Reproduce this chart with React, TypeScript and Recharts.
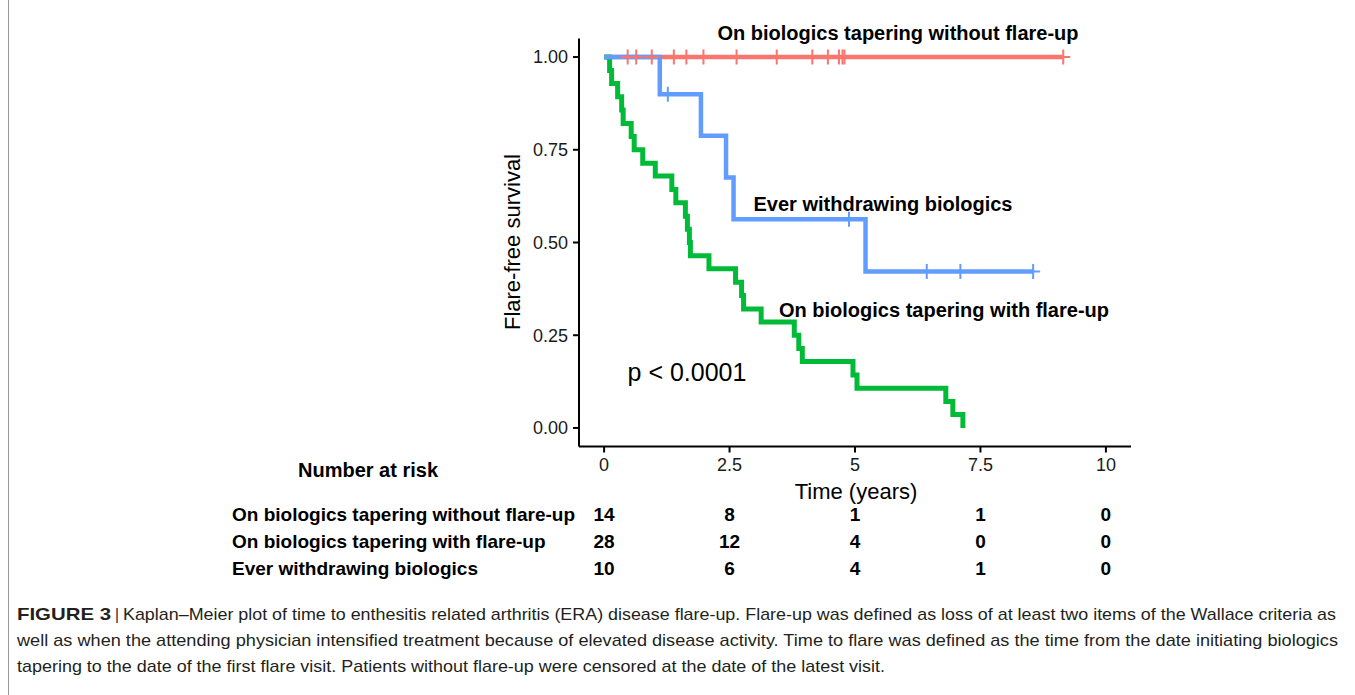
import { ComposedChart, Line, Scatter, XAxis, YAxis } from 'recharts';

const RED = '#F8766D';
const GREEN = '#00BA38';
const BLUE = '#619CFF';
const FONT = '"Liberation Sans", Arial, sans-serif';

// On biologics tapering without flare-up (no events, censored only)
const withoutTimes = [0, 9.15];
const withoutSurv = [1, 1];
const withoutCensorTimes = [0.47, 0.64, 0.95, 1.39, 1.64, 1.98, 2.64, 3.44, 4.15, 4.46, 4.68, 4.75, 4.79, 9.15];
const withoutCensorSurv = [1, 1, 1, 1, 1, 1, 1, 1, 1, 1, 1, 1, 1, 1];

// On biologics tapering with flare-up
const withTimes = [0, 0.11, 0.15, 0.27, 0.35, 0.38, 0.54, 0.6, 0.77, 1.02, 1.35, 1.43, 1.62, 1.66, 1.7, 1.72,
  2.09, 2.62, 2.74, 2.78, 3.13, 3.79, 3.88, 3.95, 4.96, 5.04, 6.81, 6.95, 7.15];
const withSurv = [1, 0.964, 0.929, 0.893, 0.857, 0.821, 0.786, 0.75, 0.714, 0.679, 0.643, 0.607, 0.571, 0.536, 0.5,
  0.464, 0.429, 0.393, 0.357, 0.321, 0.286, 0.25, 0.214, 0.179, 0.143, 0.107, 0.071, 0.036, 0];

// Ever withdrawing biologics
const withdrawTimes = [0, 1.11, 1.93, 2.43, 2.58, 5.21, 8.55];
const withdrawSurv = [1, 0.9, 0.788, 0.675, 0.563, 0.422, 0.422];
const withdrawCensorTimes = [1.27, 4.88, 6.43, 7.1, 8.55];
const withdrawCensorSurv = [0.9, 0.563, 0.422, 0.422, 0.422];

const xTicks = [0, 2.5, 5, 7.5, 10];
const yTicks = [0, 0.25, 0.5, 0.75, 1];

// Number at risk table
const riskTimes = [0, 2.5, 5, 7.5, 10];
const riskGroups = ['On biologics tapering without flare-up', 'On biologics tapering with flare-up', 'Ever withdrawing biologics'];
const riskWithout = [14, 8, 1, 1, 0];
const riskWith = [28, 12, 4, 0, 0];
const riskWithdraw = [10, 6, 4, 1, 0];

const toPts = (ts: number[], ss: number[]) => ts.map((t, i) => ({ t, s: ss[i] }));

const makePlus = (color: string) => (props: any) => {
  const { cx, cy } = props;
  return (
    <g stroke={color} strokeWidth={2}>
      <line x1={cx - 7} x2={cx + 7} y1={cy} y2={cy} />
      <line x1={cx} x2={cx} y1={cy - 7.5} y2={cy + 7.5} />
    </g>
  );
};

const riskRows = [riskWithout, riskWith, riskWithdraw].map((vals, r) =>
  vals.map((n, i) => ({ t: riskTimes[i], row: r + 0.5, n })),
);

const RiskNumber = (props: any) => {
  const { cx, cy, payload } = props;
  return (
    <text x={cx} y={cy} textAnchor="middle" dominantBaseline="central" fontFamily={FONT}
      fontWeight="bold" fontSize={19} fill="#000">
      {payload.n}
    </text>
  );
};

const RiskLabel = (props: any) => {
  const { y, payload } = props;
  const name = riskGroups[Math.floor(payload.value)];
  return (
    <text x={232} y={y} textAnchor="start" dominantBaseline="central" fontFamily={FONT}
      fontWeight="bold" fontSize={19} fill="#000">
      {name}
    </text>
  );
};

const axisStroke = { stroke: '#000', strokeWidth: 2 };
const tickStyle = { fill: '#1a1a1a', fontSize: 18, fontFamily: FONT };

export default function App() {
  return (
    <div style={{ position: 'absolute', left: 0, top: 0, width: 1355, height: 695, background: '#fff' }}>
      <div style={{ position: 'absolute', left: 0, top: 0 }}>
        <ComposedChart width={1355} height={510} margin={{ top: 38.5, right: 224, left: 519, bottom: 3.5 }}>
          <XAxis type="number" dataKey="t" domain={[-0.5, 10.5]} ticks={xTicks} allowDataOverflow
            height={60} axisLine={axisStroke} tickLine={axisStroke} tickSize={6} tickMargin={6}
            tick={tickStyle} />
          <YAxis type="number" domain={[-0.05, 1.05]} ticks={yTicks} allowDataOverflow width={60}
            axisLine={axisStroke} tickLine={axisStroke} tickSize={6} tickMargin={5}
            tick={tickStyle} tickFormatter={(v: number) => v.toFixed(2)} />
          <Line data={toPts(withoutTimes, withoutSurv)} dataKey="s" type="stepAfter" stroke={RED}
            strokeWidth={4.5} dot={false} activeDot={false} isAnimationActive={false} />
          <Line data={toPts(withTimes, withSurv)} dataKey="s" type="stepAfter" stroke={GREEN}
            strokeWidth={5} dot={false} activeDot={false} isAnimationActive={false} />
          <Line data={toPts(withdrawTimes, withdrawSurv)} dataKey="s" type="stepAfter" stroke={BLUE}
            strokeWidth={4.5} dot={false} activeDot={false} isAnimationActive={false} />
          <Scatter data={toPts(withoutCensorTimes, withoutCensorSurv)} dataKey="s"
            shape={makePlus(RED)} isAnimationActive={false} />
          <Scatter data={toPts(withdrawCensorTimes, withdrawCensorSurv)} dataKey="s"
            shape={makePlus(BLUE)} isAnimationActive={false} />
        </ComposedChart>
      </div>

      <div style={{ position: 'absolute', left: 0, top: 487 }}>
        <ComposedChart width={1355} height={100} margin={{ top: 13.5, right: 224, left: 519, bottom: 5.5 }}>
          <XAxis type="number" dataKey="t" domain={[-0.5, 10.5]} hide />
          <YAxis type="number" domain={[0, 3]} reversed ticks={[0.5, 1.5, 2.5]} width={60}
            axisLine={false} tickLine={false} tick={<RiskLabel />} />
          {riskRows.map((rows, r) => (
            <Scatter key={r} data={rows} dataKey="row" shape={RiskNumber} isAnimationActive={false} />
          ))}
        </ComposedChart>
      </div>

      <svg width={1355} height={695} style={{ position: 'absolute', left: 0, top: 0, pointerEvents: 'none' }}
        fontFamily={FONT}>
        <line x1={8.5} x2={8.5} y1={0} y2={695} stroke="#999" strokeWidth={1} />
        <text x={898} y={33} textAnchor="middle" dominantBaseline="central" fontWeight="bold" fontSize={20}>
          On biologics tapering without flare-up
        </text>
        <text x={883} y={204} textAnchor="middle" dominantBaseline="central" fontWeight="bold" fontSize={20}>
          Ever withdrawing biologics
        </text>
        <text x={944} y={310} textAnchor="middle" dominantBaseline="central" fontWeight="bold" fontSize={20}>
          On biologics tapering with flare-up
        </text>
        <text x={687} y={372} textAnchor="middle" dominantBaseline="central" fontSize={25}>
          p &lt; 0.0001
        </text>
        <text x={512} y={242} textAnchor="middle" dominantBaseline="central" fontSize={22}
          transform="rotate(-90 512 242)">
          Flare-free survival
        </text>
        <text x={856} y={491} textAnchor="middle" dominantBaseline="central" fontSize={22}>
          Time (years)
        </text>
        <text x={368} y={470} textAnchor="middle" dominantBaseline="central" fontWeight="bold" fontSize={20}>
          Number at risk
        </text>

        <g fill="#231f20" fontSize={17}>
          <text x={17} y={620} fontWeight="bold" textLength={94} lengthAdjust="spacingAndGlyphs">FIGURE 3</text>
          <text x={115} y={620} textLength={4} lengthAdjust="spacingAndGlyphs">|</text>
          <text x={123} y={620} textLength={1213} lengthAdjust="spacingAndGlyphs">
            Kaplan–Meier plot of time to enthesitis related arthritis (ERA) disease flare-up. Flare-up was defined as loss of at least two items of the Wallace criteria as
          </text>
          <text x={17} y={646} textLength={1321} lengthAdjust="spacingAndGlyphs">
            well as when the attending physician intensified treatment because of elevated disease activity. Time to flare was defined as the time from the date initiating biologics
          </text>
          <text x={17} y={672} textLength={868} lengthAdjust="spacingAndGlyphs">
            tapering to the date of the first flare visit. Patients without flare-up were censored at the date of the latest visit.
          </text>
        </g>
      </svg>
    </div>
  );
}
